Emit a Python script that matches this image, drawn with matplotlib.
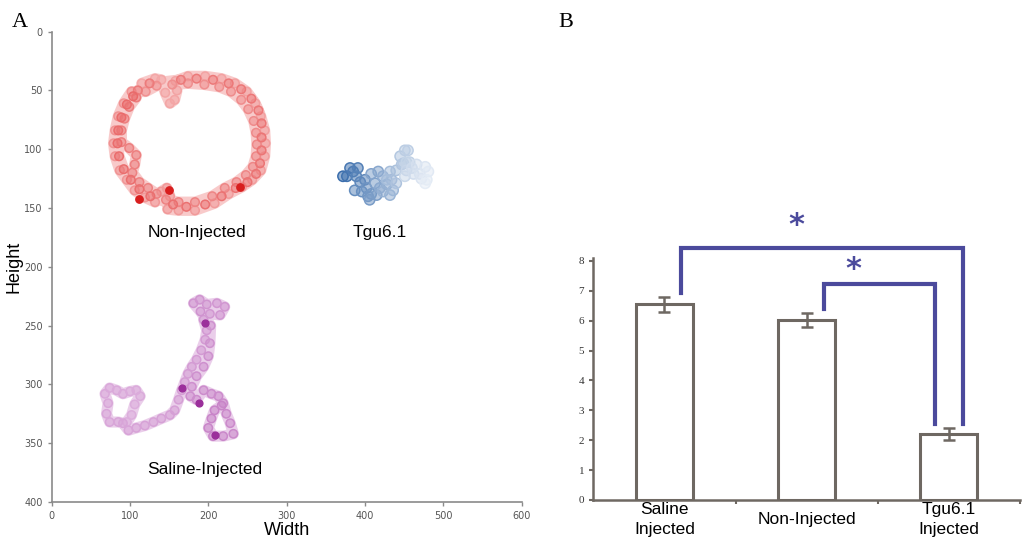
import numpy as np
import matplotlib
matplotlib.use("Agg")
import matplotlib.pyplot as plt
from matplotlib.colors import LinearSegmentedColormap

# ---- panel A: tracked positions (pixels in the arena) ----
ring_x = [115, 132, 140, 145, 151, 157, 160, 158, 174, 196, 217, 234, 249, 260, 267, 272,
          273, 272, 267, 256, 243, 226, 208, 183, 162, 148, 151, 147, 140, 132, 119, 106,
          96, 87, 81, 79, 81, 85, 92, 102,
          120, 134, 154, 174, 195, 214, 229, 242, 251, 258, 261, 262, 261, 257, 248, 236,
          221, 205, 183, 162, 146, 134, 123, 112, 103, 106, 108, 99, 89, 89, 93, 99, 108,
          110, 125, 165, 185, 206, 226, 242, 255, 264, 268, 268, 268, 266, 261, 250, 235,
          217, 196, 172, 155, 126, 112, 101, 92, 86, 84, 85, 89, 96, 104]
ring_y = [44, 40, 41, 52, 61, 58, 50, 42, 38, 38, 40, 44, 51, 61, 72, 84,
          95, 106, 118, 126, 132, 138, 146, 152, 152, 151, 140, 133, 136, 145, 141, 135,
          126, 118, 106, 95, 84, 72, 61, 51,
          51, 46, 45, 44, 45, 47, 51, 58, 66, 76, 86, 96, 106, 115, 122, 128,
          133, 140, 145, 145, 143, 138, 133, 128, 120, 113, 105, 99, 94, 84, 74, 64, 56,
          50, 44, 41, 40, 41, 44, 49, 57, 67, 78, 90, 101, 112, 121, 128, 133,
          140, 147, 149, 147, 140, 134, 126, 117, 106, 95, 84, 73, 62, 55]
ring_dark_x = [240, 111, 150]
ring_dark_y = [132, 142, 135]

tgu_x = [372, 377, 381, 385, 391, 389, 394, 400, 387, 396, 402, 404, 408, 406, 415, 413,
         408, 417, 419, 423, 428, 423, 432, 436, 434, 428, 432, 440, 440, 447, 445, 449,
         451, 455, 457, 453, 453, 451, 460, 462, 466, 470, 472, 477, 481, 479, 477]
tgu_y = [123, 123, 116, 119, 116, 123, 128, 126, 135, 136, 133, 140, 138, 143, 139, 129,
         121, 119, 133, 123, 130, 136, 139, 135, 126, 126, 119, 118, 129, 113, 106, 112,
         101, 101, 111, 111, 118, 123, 116, 121, 113, 121, 125, 115, 119, 126, 129]

saline_x = [96, 102, 106, 113, 108, 100, 91, 83, 74, 68, 72, 70, 74, 85, 91, 98, 108, 119,
            130, 140, 151, 157, 162, 166, 170, 174, 179, 185, 191, 196, 198, 194, 202, 215,
            221, 211, 198, 189, 181, 190, 203, 202, 200, 194, 185, 179, 177, 185, 194, 204,
            213, 219, 223, 228, 232, 219, 206, 200, 204, 208, 217]
saline_y = [332, 326, 317, 310, 305, 306, 308, 305, 303, 308, 316, 325, 332, 332, 333, 339, 337, 335,
            332, 329, 326, 322, 313, 305, 298, 291, 285, 279, 271, 262, 254, 245, 240, 241,
            234, 231, 232, 228, 231, 238, 250, 265, 276, 285, 293, 302, 310, 313, 305, 308,
            310, 316, 325, 333, 342, 344, 344, 337, 329, 322, 318]
saline_dark_x = [208, 167, 188, 196]
saline_dark_y = [343, 303, 316, 248]

# ---- panel B: bar chart ----
groups = ["Saline\nInjected", "Non-Injected", "Tgu6.1\nInjected"]
means = [6.55, 6.02, 2.21]
errs = [0.26, 0.24, 0.19]
comparisons = [(0, 2), (1, 2)]
bracket_tops = [8.42, 7.22]

fig = plt.figure(figsize=(10.24, 5.44), dpi=100)
fig.patch.set_facecolor("white")

axA = fig.add_axes([0.0505, 0.0772, 0.4588, 0.8647])
axB = fig.add_axes([0.5794, 0.0809, 0.4167, 0.4449])


def trail(ax, xs, ys, light, dark, lo, hi, size, lw, gamma=1.0):
    cmap = LinearSegmentedColormap.from_list("c", [light, dark])
    cols = cmap(lo + (hi - lo) * np.linspace(0, 1, len(xs)) ** gamma)
    if lw > 0:
        ax.plot(xs, ys, color=cmap(lo), lw=lw, alpha=0.6, solid_capstyle="round",
                solid_joinstyle="round", zorder=1)
    face = cols.copy()
    face[:, 3] = 0.55
    ax.scatter(xs, ys, s=size, facecolors=face, edgecolors=cols, linewidths=1.1, zorder=2)


trail(axA, ring_x, ring_y, "#fbd6d6", "#e23c3c", 0.3, 0.7, 38, 8)
axA.scatter(ring_dark_x, ring_dark_y, s=28, color="#d81e1e", zorder=3)
trail(axA, tgu_x, tgu_y, "#3a6dac", "#e6edf6", 0.0, 1.0, 55, 0, gamma=0.8)
trail(axA, saline_x, saline_y, "#f6e3f6", "#b358b3", 0.38, 0.68, 36, 8)
axA.scatter(saline_dark_x, saline_dark_y, s=24, color="#9b2f9b", zorder=3)

axA.text(186, 171, "Non-Injected", fontsize=12.5, ha="center", va="center", family="Liberation Sans")
axA.text(419, 171, "Tgu6.1", fontsize=12.5, ha="center", va="center", family="Liberation Sans")
axA.text(196, 372, "Saline-Injected", fontsize=12.5, ha="center", va="center", family="Liberation Sans")

axA.set_xlim(0, 600)
axA.set_ylim(400, 0)
axA.set_xticks(range(0, 601, 100))
axA.set_yticks(range(0, 401, 50))
for s in ["top", "right"]:
    axA.spines[s].set_visible(False)
for s in ["left", "bottom"]:
    axA.spines[s].set_color("#8a8a8a")
    axA.spines[s].set_linewidth(1.2)
axA.tick_params(labelsize=7, labelcolor="#555555", color="#8a8a8a", length=3, width=1)
axA.set_xlabel("Width", fontsize=13, labelpad=0.5, family="Liberation Sans")
axA.set_ylabel("Height", fontsize=13, labelpad=1, family="Liberation Sans")

# bars
gray = "#6e6862"
purple = "#4b4a9c"
x = np.arange(len(groups))
axB.bar(x, means, width=0.4, color="white", edgecolor=gray, linewidth=2.2, zorder=2)
axB.errorbar(x, means, yerr=errs, fmt="none", ecolor=gray, elinewidth=1.8,
             capsize=4, capthick=1.8, zorder=3)

leg_shift = [0.10, -0.10]
star_lift = [0.78, 0.5]
for k, (i, j) in enumerate(comparisons):
    top = bracket_tops[k]
    xl = x[i] + 0.12
    xr = x[j] + leg_shift[k]
    yl = means[i] + errs[i] + 0.12
    yr = means[j] + errs[j] + 0.14
    axB.plot([xl, xl, xr, xr], [yl, top, top, yr], color=purple, lw=3,
             solid_joinstyle="miter", clip_on=False, zorder=4)
    axB.text((xl + xr) / 2 - 0.18, top + star_lift[k], "*", fontsize=22,
             fontweight="bold", color=purple, ha="center", va="center", clip_on=False)

axB.set_xlim(-0.5, 2.5)
axB.set_ylim(0, 8.1)
axB.set_yticks(range(0, 9))
axB.set_xticks(x)
axB.set_xticklabels(groups, fontsize=12.5, family="Liberation Sans", va="center",
                    linespacing=1.35)
axB.set_xticks([0.5, 1.5, 2.5], minor=True)
axB.tick_params(axis="x", which="major", length=0, pad=14)
axB.tick_params(axis="x", which="minor", length=3, color=gray, width=1.5)
axB.tick_params(axis="y", length=3, color=gray, width=1.5, labelsize=8, labelcolor="#333333")
for lbl in axB.get_yticklabels():
    lbl.set_family("Liberation Serif")
for s in ["top", "right"]:
    axB.spines[s].set_visible(False)
for s in ["left", "bottom"]:
    axB.spines[s].set_color(gray)
    axB.spines[s].set_linewidth(1.8)

fig.text(12 / 1024, 1 - 27 / 544, "A", fontsize=16, family="Liberation Serif", va="baseline")
fig.text(558 / 1024, 1 - 27 / 544, "B", fontsize=16, family="Liberation Serif", va="baseline")

fig.savefig("out.png", dpi=100)
